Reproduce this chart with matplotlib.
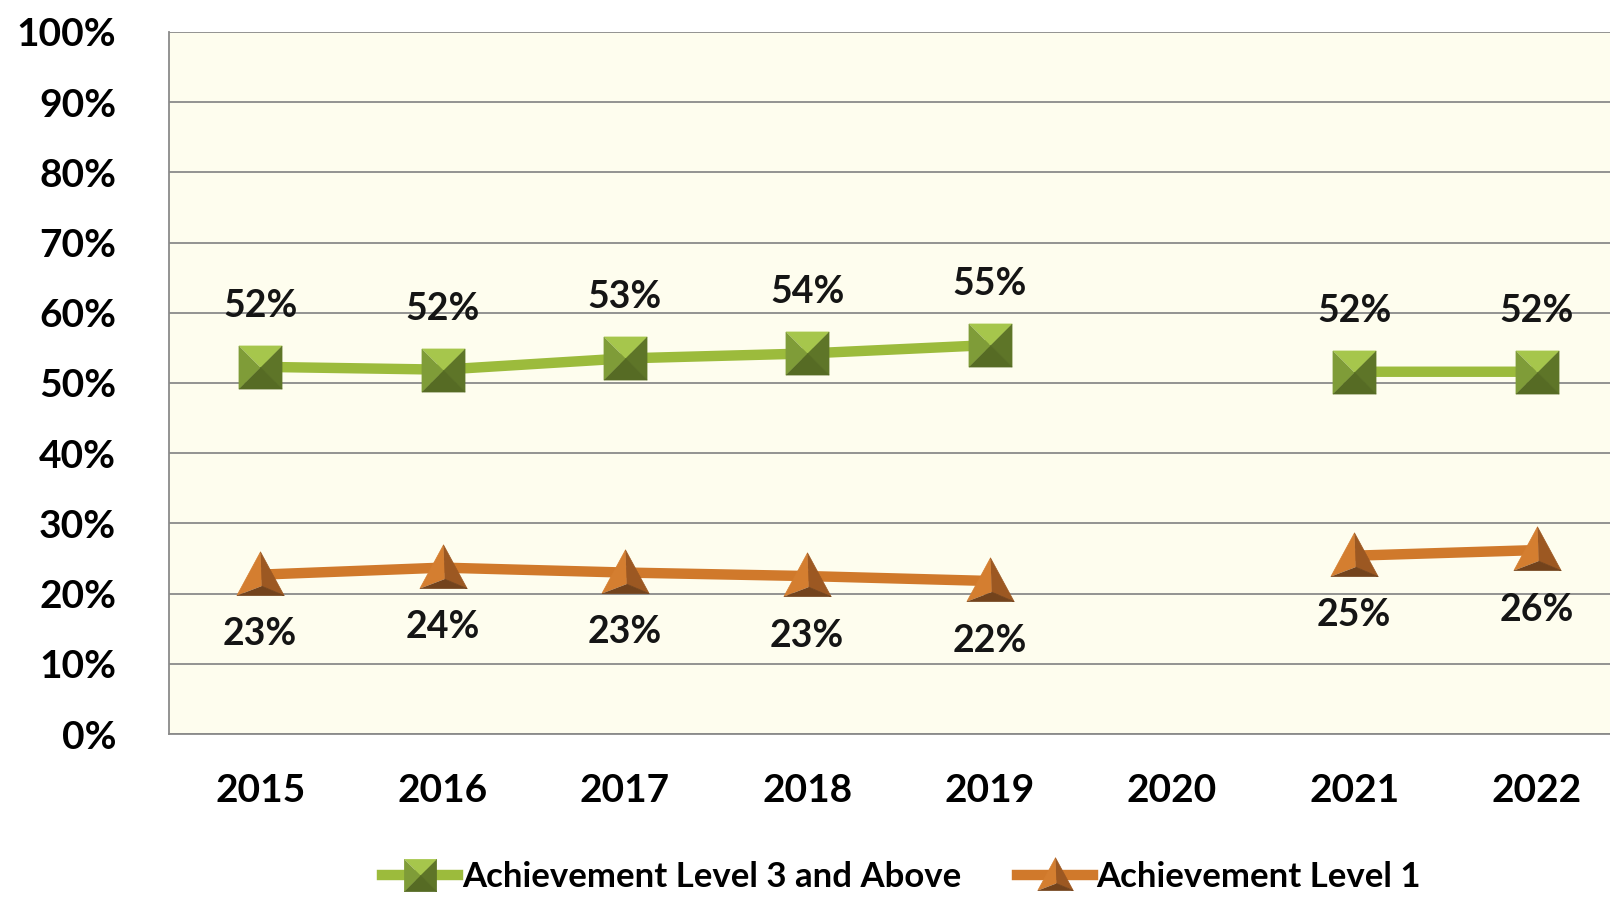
import numpy as np
import matplotlib
matplotlib.use("Agg")
import matplotlib.pyplot as plt
from matplotlib.lines import Line2D
from matplotlib.legend_handler import HandlerTuple

plt.rcParams['font.family'] = ['Lato', 'DejaVu Sans']

years = ['2015', '2016', '2017', '2018', '2019', '2020', '2021', '2022']
level3_above = [52.3, 51.9, 53.5, 54.2, 55.4, np.nan, 51.6, 51.6]
level1 = [22.7, 23.7, 23.0, 22.5, 21.8, np.nan, 25.4, 26.2]
level3_labels = ['52%', '52%', '53%', '54%', '55%', '', '52%', '52%']
level1_labels = ['23%', '24%', '23%', '23%', '22%', '', '25%', '26%']
yticks = [0, 10, 20, 30, 40, 50, 60, 70, 80, 90, 100]

green_line = '#9CBB3C'
orange_line = '#D0792B'

# pyramid faces for the square marker
sq_faces = [
    ([(-1, 1), (1, 1), (0, 0)], '#A6C64C'),
    ([(-1, 1), (-1, -1), (0, 0)], '#7F9C38'),
    ([(1, 1), (1, -1), (0, 0)], '#5E7528'),
    ([(-1, -1), (1, -1), (0, 0)], '#566B24'),
]
# pyramid faces for the triangle marker
c = (0.05, -0.45)
tri_faces = [
    ([(-1, -0.85), (0, 1), c], '#D47E30'),
    ([(0, 1), (1, -0.85), c], '#9C5822'),
    ([(-1, -0.85), (1, -0.85), c], '#73431C'),
]

fig = plt.figure(figsize=(16.1, 8.99), dpi=100)
ax = fig.add_axes([0.105, 0.1835, 0.906, 0.781])
ax.set_facecolor('#FEFDEE')

x = np.arange(len(years)) + 0.5


def draw_series(vals, line_color, faces, size, lw):
    handles = []
    ax.plot(x, vals, color=line_color, lw=lw, solid_capstyle='butt', zorder=3)
    handles.append(Line2D([], [], color=line_color, lw=lw))
    for verts, col in faces:
        ax.plot(x, vals, ls='none', marker=verts, markersize=size,
                markerfacecolor=col, markeredgecolor=col, markeredgewidth=0.5, zorder=4)
        handles.append(Line2D([], [], ls='none', marker=verts, markersize=size * 0.75,
                              markerfacecolor=col, markeredgecolor=col, markeredgewidth=0.5))
    return tuple(handles)


h1 = draw_series(level3_above, green_line, sq_faces, 31, 7.5)
h2 = draw_series(level1, orange_line, tri_faces, 34, 7.5)

for xi, v, lab in zip(x, level3_above, level3_labels):
    if lab:
        ax.annotate(lab, (xi, v), xytext=(0, 44), textcoords='offset points',
                    ha='center', va='center', fontsize=27, fontweight='bold',
                    color='#151515')
for xi, v, lab in zip(x, level1, level1_labels):
    if lab:
        ax.annotate(lab, (xi, v), xytext=(0, -43), textcoords='offset points',
                    ha='center', va='center', fontsize=27, fontweight='bold',
                    color='#151515')

ax.set_xlim(0, len(years))
ax.set_ylim(0, 100)
ax.set_yticks(yticks)
ax.set_yticklabels([f'{t}%' for t in yticks], fontsize=28, fontweight='bold')
ax.set_xticks(x)
ax.set_xticklabels(years, fontsize=28, fontweight='bold')
ax.tick_params(axis='y', length=0, pad=38)
ax.tick_params(axis='x', length=0, pad=28)
ax.grid(axis='y', color='#8A8A8A', lw=1.3)
ax.set_axisbelow(True)
for side in ['top', 'right']:
    ax.spines[side].set_visible(False)
for side in ['left', 'bottom']:
    ax.spines[side].set_color('#8A8A8A')
    ax.spines[side].set_linewidth(1.3)

fig.legend([h1, h2], ['Achievement Level 3 and Above', 'Achievement Level 1'],
           handler_map={tuple: HandlerTuple(ndivide=1, pad=0)},
           loc='center', bbox_to_anchor=(0.56, 0.024), ncol=2, frameon=False,
           prop={'size': 25, 'weight': 'bold'}, handlelength=2.2,
           handletextpad=0.1, columnspacing=1.6)

fig.savefig('out.png', dpi=100)
